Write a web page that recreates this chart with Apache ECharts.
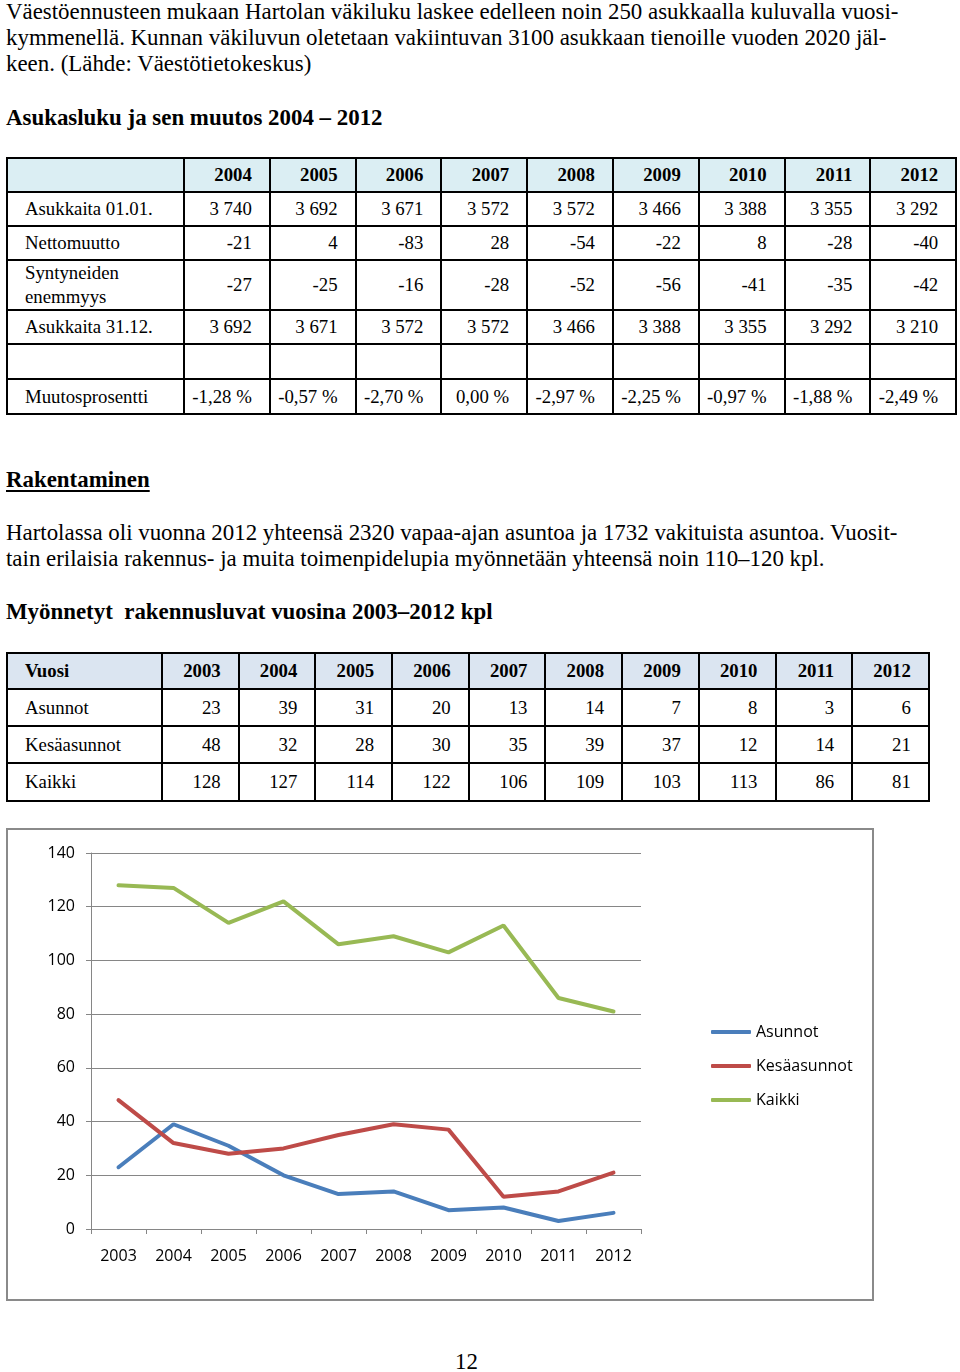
<!DOCTYPE html>
<html lang="fi">
<head>
<meta charset="utf-8">
<title>Hartola – asukasluku ja rakennusluvat</title>
<script src="https://cdn.jsdelivr.net/npm/echarts@6/dist/echarts.min.js"></script>
<style>
  html, body { margin: 0; padding: 0; background: #fff; }
  body {
    width: 960px; height: 1372px; position: relative; overflow: hidden;
    font-family: "Liberation Serif", "Times New Roman", serif; color: #000;
  }
  .txt { position: absolute; left: 6px; font-size: 22.9px; line-height: 26px; white-space: pre; }
  .bold { font-weight: bold; }
  .under { text-decoration: underline; text-decoration-thickness: 2px; text-underline-offset: 3px; }
  table { position: absolute; border-collapse: collapse; table-layout: fixed; font-size: 18.8px; }
  td { border: 2px solid #000; padding: 0 17px 0 0; text-align: right; white-space: nowrap; overflow: hidden; line-height: 24px; }
  td.label { text-align: left; padding: 0 0 0 17px; white-space: normal; }
  tr.head td { font-weight: bold; }
  #t1 { left: 6px; top: 157px; }
  #t1 tr.head td { background: #dbeef3; }
  #t2 { left: 6px; top: 652px; }
  #t2 tr.head td { background: #dbe5f1; }
  #chart {
    position: absolute; left: 6px; top: 828px; width: 868px; height: 473px;
    box-sizing: border-box; border: 2px solid #8a8a8a;
  }
</style>
</head>
<body>

<div class="txt" style="top:-1px">Väestöennusteen mukaan Hartolan väkiluku laskee edelleen noin 250 asukkaalla kuluvalla vuosi-</div>
<div class="txt" style="top:25px">kymmenellä. Kunnan väkiluvun oletetaan vakiintuvan 3100 asukkaan tienoille vuoden 2020 jäl-</div>
<div class="txt" style="top:51px">keen. (Lähde: Väestötietokeskus)</div>
<div class="txt bold" style="top:105px">Asukasluku ja sen muutos 2004 – 2012</div>

<table id="t1"></table>

<div class="txt bold under" style="top:467px">Rakentaminen</div>
<div class="txt" style="top:520px">Hartolassa oli vuonna 2012 yhteensä 2320 vapaa-ajan asuntoa ja 1732 vakituista asuntoa. Vuosit-</div>
<div class="txt" style="top:546px">tain erilaisia rakennus- ja muita toimenpidelupia myönnetään yhteensä noin 110–120 kpl.</div>
<div class="txt bold" style="top:599px">Myönnetyt  rakennusluvat vuosina 2003–2012 kpl</div>

<table id="t2"></table>

<div id="chart"></div>

<div class="txt" style="top:1349px; left:455px">12</div>

<script>
// Asukasluku ja sen muutos 2004 – 2012
const popYears = ['2004', '2005', '2006', '2007', '2008', '2009', '2010', '2011', '2012'];
const asukkaitaAlku = [3740, 3692, 3671, 3572, 3572, 3466, 3388, 3355, 3292];
const nettomuutto = [-21, 4, -83, 28, -54, -22, 8, -28, -40];
const syntyneidenEnemmyys = [-27, -25, -16, -28, -52, -56, -41, -35, -42];
const asukkaitaLoppu = [3692, 3671, 3572, 3572, 3466, 3388, 3355, 3292, 3210];
const muutosprosentti = [-1.28, -0.57, -2.70, 0.00, -2.97, -2.25, -0.97, -1.88, -2.49];

// Myönnetyt rakennusluvat 2003–2012
const years = ['2003', '2004', '2005', '2006', '2007', '2008', '2009', '2010', '2011', '2012'];
const asunnot = [23, 39, 31, 20, 13, 14, 7, 8, 3, 6];
const kesaasunnot = [48, 32, 28, 30, 35, 39, 37, 12, 14, 21];
const kaikki = [128, 127, 114, 122, 106, 109, 103, 113, 86, 81];

const yMin = 0;
const yMax = 140;
const yStep = 20;

function thousands(n) {
  return String(n).replace(/\B(?=(\d{3})+(?!\d))/g, ' ');
}

function percent(p) {
  return p.toFixed(2).replace('.', ',') + ' %';
}

function buildTable(el, firstWidth, colWidth, rows) {
  const cols = rows[0].cells.length - 1;
  let html = '<colgroup><col style="width:' + firstWidth + 'px">';
  for (let i = 0; i < cols; i++) html += '<col style="width:' + colWidth + 'px">';
  html += '</colgroup>';
  rows.forEach(r => {
    html += '<tr class="' + (r.head ? 'head' : '') + '" style="height:' + r.h + 'px">';
    r.cells.forEach((c, i) => {
      html += '<td' + (i === 0 ? ' class="label"' : '') + '>' + c + '</td>';
    });
    html += '</tr>';
  });
  el.style.width = (firstWidth + cols * colWidth) + 'px';
  el.innerHTML = html;
}

buildTable(document.getElementById('t1'), 177, 85.8, [
  { head: true, h: 34, cells: [''].concat(popYears) },
  { h: 34, cells: ['Asukkaita 01.01.'].concat(asukkaitaAlku.map(thousands)) },
  { h: 34, cells: ['Nettomuutto'].concat(nettomuutto) },
  { h: 48, cells: ['Syntyneiden enemmyys'].concat(syntyneidenEnemmyys) },
  { h: 34, cells: ['Asukkaita 31.12.'].concat(asukkaitaLoppu.map(thousands)) },
  { h: 35, cells: [''].concat(popYears.map(() => '')) },
  { h: 35, cells: ['Muutosprosentti'].concat(muutosprosentti.map(percent)) }
]);

buildTable(document.getElementById('t2'), 155, 76.7, [
  { head: true, h: 36, cells: ['Vuosi'].concat(years) },
  { h: 37, cells: ['Asunnot'].concat(asunnot) },
  { h: 37, cells: ['Kesäasunnot'].concat(kesaasunnot) },
  { h: 38, cells: ['Kaikki'].concat(kaikki) }
]);

const chart = echarts.init(document.getElementById('chart'));
const axisGray = '#868686';

function lineSeries(name, data, color) {
  return {
    name: name,
    type: 'line',
    data: data,
    symbol: 'none',
    itemStyle: { color: color },
    lineStyle: { color: color, width: 4, cap: 'round' }
  };
}

chart.setOption({
  animation: false,
  textStyle: { fontFamily: 'Open Sans' },
  grid: { left: 83, top: 23, width: 550, height: 376 },
  legend: {
    orient: 'vertical',
    left: 703,
    top: 192,
    padding: 0,
    icon: 'roundRect',
    itemWidth: 40,
    itemHeight: 4,
    itemGap: 14,
    textStyle: { fontSize: 16, color: '#000', lineHeight: 20 },
    data: ['Asunnot', 'Kesäasunnot', 'Kaikki']
  },
  xAxis: {
    type: 'category',
    data: years,
    boundaryGap: true,
    axisLine: { lineStyle: { color: axisGray, width: 1 } },
    axisTick: { show: true, length: 5, lineStyle: { color: axisGray } },
    axisLabel: { fontSize: 16, color: '#000', margin: 19 },
    splitLine: { show: false }
  },
  yAxis: {
    type: 'value',
    min: yMin,
    max: yMax,
    interval: yStep,
    axisLine: { show: true, lineStyle: { color: axisGray, width: 1 } },
    axisTick: { show: true, length: 5, lineStyle: { color: axisGray } },
    axisLabel: { fontSize: 16, color: '#000', margin: 16 },
    splitLine: { show: true, lineStyle: { color: axisGray, width: 1 } }
  },
  series: [
    lineSeries('Asunnot', asunnot, '#4a7ebb'),
    lineSeries('Kesäasunnot', kesaasunnot, '#be4b48'),
    lineSeries('Kaikki', kaikki, '#98b954')
  ]
});
</script>
</body>
</html>
